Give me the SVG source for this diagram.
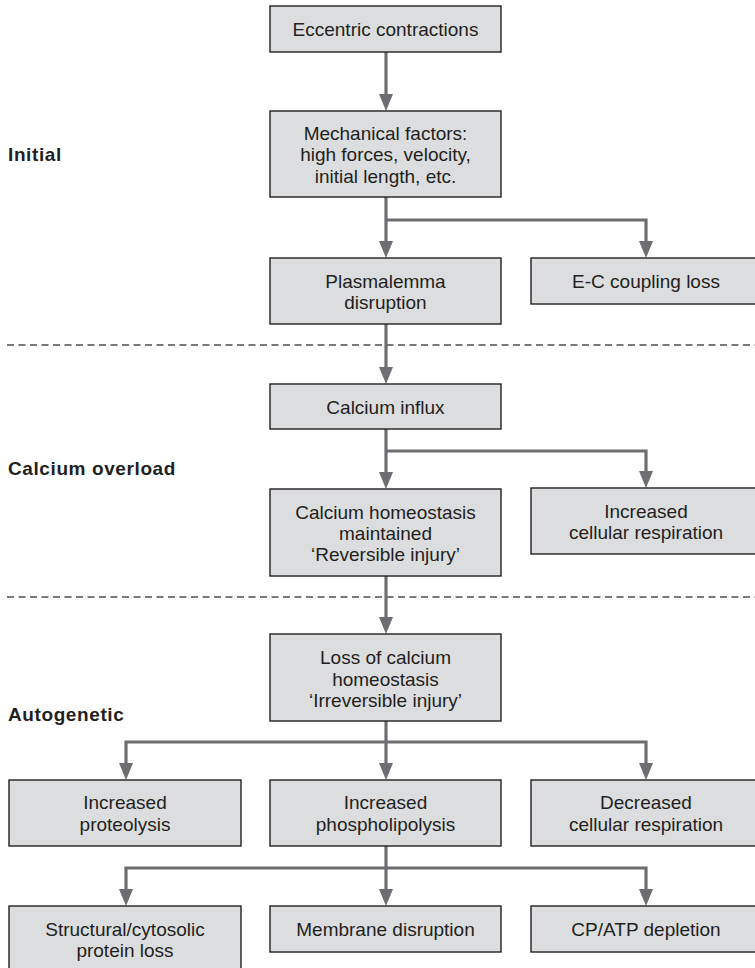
<svg xmlns="http://www.w3.org/2000/svg" width="755" height="968" viewBox="0 0 755 968">
<style>
.box{fill:#dcdddf;stroke:#231f20;stroke-width:1.4}
.t{font-family:"Liberation Sans",Arial,sans-serif;font-size:19px;fill:#231f20;text-anchor:middle}
.lbl{font-family:"Liberation Sans",Arial,sans-serif;font-size:19px;font-weight:bold;fill:#231f20;letter-spacing:0.6px}
.c{fill:none;stroke:#6d6e71;stroke-width:3.2}
.d{fill:none;stroke:#4d4d4f;stroke-width:1.3;stroke-dasharray:7 4.5}
</style>
<defs>
<marker id="ah" markerUnits="userSpaceOnUse" markerWidth="17" markerHeight="14" refX="0" refY="7" orient="auto">
<path d="M0,0 L17,7 L0,14 Z" fill="#6d6e71"/>
</marker>
</defs>
<g id="dividers">
<line class="d" x1="7" y1="345" x2="755" y2="345"/>
<line class="d" x1="7" y1="597" x2="755" y2="597"/>
</g>
<g id="labels">
<text class="lbl" x="8" y="161">Initial</text>
<text class="lbl" x="8" y="475">Calcium overload</text>
<text class="lbl" x="8" y="721">Autogenetic</text>
</g>
<g id="connectors">
<path class="c" d="M386,52 V94" marker-end="url(#ah)"/>
<path class="c" d="M386,197 V241" marker-end="url(#ah)"/>
<path class="c" d="M386,220 H646 V241" marker-end="url(#ah)"/>
<path class="c" d="M386,324 V367" marker-end="url(#ah)"/>
<path class="c" d="M386,429 V472" marker-end="url(#ah)"/>
<path class="c" d="M386,451 H646 V471" marker-end="url(#ah)"/>
<path class="c" d="M386,576 V617" marker-end="url(#ah)"/>
<path class="c" d="M386,721 V763" marker-end="url(#ah)"/>
<path class="c" d="M386,742 H126 V763" marker-end="url(#ah)"/>
<path class="c" d="M386,742 H646 V763" marker-end="url(#ah)"/>
<path class="c" d="M386,846 V889" marker-end="url(#ah)"/>
<path class="c" d="M386,868 H126 V889" marker-end="url(#ah)"/>
<path class="c" d="M386,868 H646 V889" marker-end="url(#ah)"/>
</g>
<g id="eccentric">
<rect class="box" x="270" y="6" width="231" height="46"/>
<text class="t" x="385.5" y="36">Eccentric contractions</text>
</g>
<g id="mechanical">
<rect class="box" x="270" y="111" width="231" height="86"/>
<text class="t" x="385.5" y="140">Mechanical factors:</text>
<text class="t" x="385.5" y="161">high forces, velocity,</text>
<text class="t" x="385.5" y="183">initial length, etc.</text>
</g>
<g id="plasmalemma">
<rect class="box" x="270" y="258" width="231" height="66"/>
<text class="t" x="385.5" y="288">Plasmalemma</text>
<text class="t" x="385.5" y="309">disruption</text>
</g>
<g id="ec-coupling">
<rect class="box" x="531" y="258" width="231" height="46"/>
<text class="t" x="646" y="288">E-C coupling loss</text>
</g>
<g id="calcium-influx">
<rect class="box" x="270" y="384" width="231" height="45"/>
<text class="t" x="385.5" y="414">Calcium influx</text>
</g>
<g id="homeostasis-maintained">
<rect class="box" x="270" y="489" width="231" height="87"/>
<text class="t" x="385.5" y="519">Calcium homeostasis</text>
<text class="t" x="385.5" y="540">maintained</text>
<text class="t" x="385.5" y="561">‘Reversible injury’</text>
</g>
<g id="increased-respiration">
<rect class="box" x="531" y="488" width="231" height="66"/>
<text class="t" x="646" y="518">Increased</text>
<text class="t" x="646" y="539">cellular respiration</text>
</g>
<g id="loss-homeostasis">
<rect class="box" x="270" y="634" width="231" height="87"/>
<text class="t" x="385.5" y="664">Loss of calcium</text>
<text class="t" x="385.5" y="686">homeostasis</text>
<text class="t" x="385.5" y="707">‘Irreversible injury’</text>
</g>
<g id="proteolysis">
<rect class="box" x="9" y="780" width="232" height="66"/>
<text class="t" x="125" y="809">Increased</text>
<text class="t" x="125" y="831">proteolysis</text>
</g>
<g id="phospholipolysis">
<rect class="box" x="270" y="780" width="231" height="66"/>
<text class="t" x="385.5" y="809">Increased</text>
<text class="t" x="385.5" y="831">phospholipolysis</text>
</g>
<g id="decreased-respiration">
<rect class="box" x="531" y="780" width="231" height="66"/>
<text class="t" x="646" y="809">Decreased</text>
<text class="t" x="646" y="831">cellular respiration</text>
</g>
<g id="protein-loss">
<rect class="box" x="9" y="906" width="232" height="66"/>
<text class="t" x="125" y="936">Structural/cytosolic</text>
<text class="t" x="125" y="957">protein loss</text>
</g>
<g id="membrane">
<rect class="box" x="270" y="906" width="231" height="46"/>
<text class="t" x="385.5" y="936">Membrane disruption</text>
</g>
<g id="cp-atp">
<rect class="box" x="531" y="906" width="231" height="46"/>
<text class="t" x="646" y="936">CP/ATP depletion</text>
</g>
</svg>
